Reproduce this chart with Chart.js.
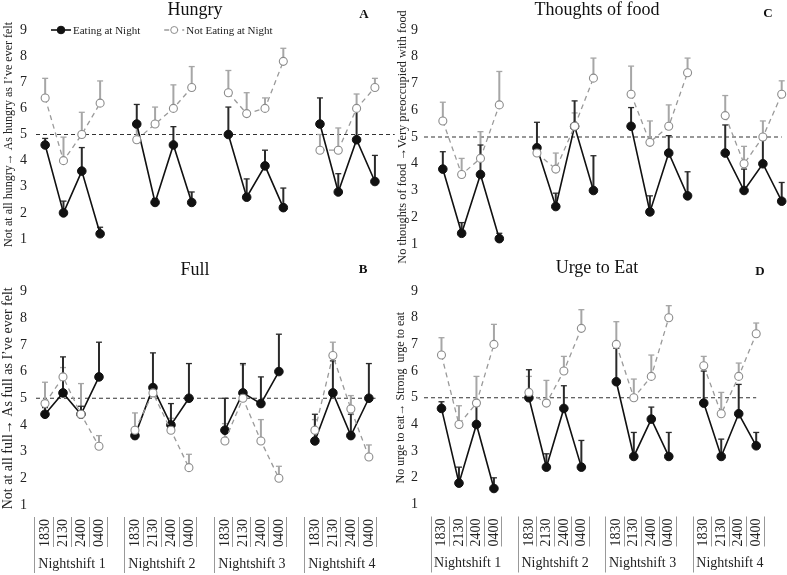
<!DOCTYPE html>
<html>
<head>
<meta charset="utf-8">
<script src="https://cdn.jsdelivr.net/npm/chart.js@4"></script>
<style>
body{margin:0;background:#fff;}
#wrap{position:relative;width:787px;height:575px;overflow:hidden;}
canvas{position:absolute;}
</style>
</head>
<body>
<div id="wrap">
    <canvas id="cA" width="400" height="280" style="left:0;top:0"></canvas>
    <canvas id="cC" width="394" height="280" style="left:393px;top:0"></canvas>
    <canvas id="cB" width="400" height="317" style="left:0;top:258px"></canvas>
    <canvas id="cD" width="394" height="317" style="left:393px;top:258px"></canvas>
</div>
<script>
const turnos = ['Nightshift 1','Nightshift 2','Nightshift 3','Nightshift 4'];
const horas = ['1830','2130','2400','0400'];
const escala = [1,2,3,4,5,6,7,8,9];
const referencia = 5;
const series = ['Eating at Night','Not Eating at Night'];

// medias y tope de la barra de error, 4 horas x 4 turnos
const hungryEat    = [4.6,2.0,3.6,1.2, 5.4,2.4,4.6,2.4, 5.0,2.6,3.8,2.2, 5.4,2.8,4.8,3.2];
const hungryEatTop = [4.85,2.45,4.5,1.45, 6.15,2.55,5.3,2.8, 6.05,3.3,4.4,2.95, 6.4,3.5,5.95,4.2];
const hungryNot    = [6.4,4.0,5.0,6.2, 4.8,5.4,6.0,6.8, 6.6,5.8,6.0,7.8, 4.4,4.4,6.0,6.8];
const hungryNotTop = [7.15,4.9,5.85,7.05, 5.3,6.05,6.9,7.6, 7.45,6.6,6.4,8.3, 5.0,5.25,6.55,7.15];

const fullEat    = [4.4,5.2,4.4,5.8, 3.6,5.4,4.0,5.0, 3.8,5.2,4.8,6.0, 3.4,5.2,3.6,5.0];
const fullEatTop = [4.65,6.55,4.7,7.1, 3.9,6.7,4.8,6.3, 5.0,6.3,5.8,7.4, 4.4,6.4,4.4,6.3];
const fullNot    = [4.8,5.8,4.4,3.2, 3.8,5.2,3.8,2.4, 3.4,5.0,3.4,2.0, 3.8,6.6,4.6,2.8];
const fullNotTop = [5.6,6.15,5.55,3.6, 4.45,5.5,4.25,2.9, 4.05,6.25,4.2,2.45, 4.2,7.1,5.1,3.25];

const thoughtsEat    = [3.8,1.4,3.6,1.2, 4.6,2.4,5.4,3.0, 5.4,2.2,4.4,2.8, 4.4,3.0,4.0,2.6];
const thoughtsEatTop = [4.45,1.8,4.7,1.4, 5.55,2.9,6.35,4.3, 6.1,2.8,5.05,3.7, 5.45,3.8,4.9,3.3];
const thoughtsNot    = [5.6,3.6,4.2,6.2, 4.4,3.8,5.4,7.2, 6.6,4.8,5.4,7.4, 5.8,4.0,5.0,6.6];
const thoughtsNotTop = [6.3,4.2,5.2,7.45, 4.6,4.4,5.9,7.95, 7.65,5.6,6.2,7.95, 6.55,4.65,5.6,7.1];

const urgeEat    = [4.6,1.8,4.0,1.6, 5.0,2.4,4.6,2.4, 5.6,2.8,4.2,2.8, 4.8,2.8,4.4,3.2];
const urgeEatTop = [4.85,2.4,4.7,2.0, 6.05,2.9,5.45,3.4, 6.85,3.7,4.65,3.7, 6.0,3.45,5.5,3.7];
const urgeNot    = [6.6,4.0,4.8,7.0, 5.2,4.8,6.0,7.6, 7.0,5.0,5.8,8.0, 6.2,4.4,5.8,7.4];
const urgeNotTop = [7.25,4.7,5.8,7.75, 5.8,5.65,6.55,8.3, 7.85,5.7,6.6,8.45, 6.55,5.2,6.3,7.8];

const fuente = '"Liberation Serif", "Times New Roman", serif';

// cada turno ocupa 5 posiciones en x, la quinta queda vacia para cortar la linea
const puntos = (vals) => {
    let arr = [];
    for (let s = 0; s < turnos.length; s++) {
        for (let j = 0; j < horas.length; j++) {
            arr.push({x: s*5+j, y: vals[s*horas.length+j]});
        }
        if (s < turnos.length-1) arr.push({x: s*5+horas.length, y: null});
    }
    return arr;
}
const posiciones = [];
turnos.forEach((t, s) => horas.forEach((h, j) => posiciones.push(s*5+j)));

const lineaMedia = {
    id: 'lineaMedia',
    beforeDatasetsDraw(chart) {
        const ctx = chart.ctx;
        const a = chart.chartArea;
        const py = chart.scales.y.getPixelForValue(referencia);
        ctx.save();
        ctx.strokeStyle = '#333';
        ctx.lineWidth = 1.2;
        ctx.setLineDash([4,3]);
        ctx.beginPath();
        ctx.moveTo(a.left, py);
        ctx.lineTo(a.right, py);
        ctx.stroke();
        ctx.restore();
    }
};

const barrasError = {
    id: 'barrasError',
    beforeDatasetsDraw(chart) {
        const ctx = chart.ctx;
        const ys = chart.scales.y;
        chart.data.datasets.forEach((ds, i) => {
            const meta = chart.getDatasetMeta(i);
            ctx.save();
            ctx.strokeStyle = ds.barColor;
            meta.data.forEach((pt, k) => {
                const top = ds.tops[k];
                if (top == null) return;
                const py = ys.getPixelForValue(top);
                ctx.lineWidth = 2;
                ctx.beginPath();
                ctx.moveTo(pt.x, pt.y);
                ctx.lineTo(pt.x, py);
                ctx.stroke();
                ctx.lineWidth = 1.3;
                ctx.beginPath();
                ctx.moveTo(pt.x-3, py);
                ctx.lineTo(pt.x+3, py);
                ctx.stroke();
            });
            ctx.restore();
        });
    }
};

const decor = {
    id: 'decor',
    afterDraw(chart, args, op) {
        const ctx = chart.ctx;
        ctx.save();
        ctx.fillStyle = '#111';
        ctx.textAlign = 'center';
        ctx.textBaseline = 'alphabetic';
        ctx.font = '18px ' + fuente;
        ctx.fillText(op.titulo, op.tx, op.ty);
        ctx.font = 'bold 13px ' + fuente;
        ctx.fillText(op.letra, op.lx, op.ly);
        if (op.leyenda) {
            let x = op.leyenda.x;
            const y = op.leyenda.y;
            ctx.font = '11px ' + fuente;
            ctx.textAlign = 'left';
            ctx.textBaseline = 'middle';
            [1,0].forEach((i) => {
                const ds = chart.data.datasets[i];
                ctx.strokeStyle = ds.borderColor;
                ctx.lineWidth = ds.borderWidth;
                ctx.setLineDash(ds.borderDash || []);
                ctx.beginPath();
                ctx.moveTo(x, y);
                ctx.lineTo(x+20, y);
                ctx.stroke();
                ctx.setLineDash([]);
                ctx.beginPath();
                ctx.arc(x+10, y, ds.pointRadius-0.5, 0, Math.PI*2);
                ctx.fillStyle = ds.pointBackgroundColor;
                ctx.fill();
                ctx.lineWidth = 1;
                ctx.strokeStyle = ds.pointBorderColor;
                ctx.stroke();
                ctx.fillStyle = '#222';
                ctx.fillText(ds.label, x+22, y+1);
                x += 22 + ctx.measureText(ds.label).width + 24;
            });
        }
        if (op.grupos) {
            const xs = chart.scales.x;
            const y0 = chart.chartArea.bottom + 12;
            ctx.strokeStyle = '#999';
            ctx.lineWidth = 1;
            ctx.fillStyle = '#222';
            ctx.font = '14px ' + fuente;
            ctx.textAlign = 'center';
            ctx.textBaseline = 'middle';
            turnos.forEach((t, s) => {
                let px = Math.round(xs.getPixelForValue(s*5-0.62)) + 0.5;
                ctx.beginPath();
                ctx.moveTo(px, y0);
                ctx.lineTo(px, y0+56);
                ctx.stroke();
                horas.forEach((h, j) => {
                    px = Math.round(xs.getPixelForValue(s*5+j+0.42)) + 0.5;
                    ctx.beginPath();
                    ctx.moveTo(px, y0);
                    ctx.lineTo(px, y0+30);
                    ctx.stroke();
                });
                ctx.fillText(t, xs.getPixelForValue(s*5+1.5), y0+47);
            });
        }
        ctx.restore();
    }
};

const crearPanel = (p) => {
    const datasets = [
        {
            label: series[1],
            data: puntos(p.not),
            tops: puntos(p.notTop).map(d => d.y),
            borderColor: '#9a9a9a',
            borderWidth: 1.3,
            borderDash: [5,4],
            pointRadius: 4,
            pointBackgroundColor: '#fff',
            pointBorderColor: '#8c8c8c',
            pointBorderWidth: 1.1,
            barColor: '#a6a6a6',
            clip: false
        },
        {
            label: series[0],
            data: puntos(p.eat),
            tops: puntos(p.eatTop).map(d => d.y),
            borderColor: '#111',
            borderWidth: 1.6,
            pointRadius: 4.3,
            pointBackgroundColor: '#111',
            pointBorderColor: '#111',
            pointBorderWidth: 1,
            barColor: '#2a2a2a',
            clip: false
        }
    ];
    new Chart(document.getElementById(p.id), {
        type: 'line',
        data: {datasets},
        options: {
            responsive: false,
            animation: false,
            events: [],
            layout: {padding: {top: p.top, bottom: p.bottom, left: 0, right: p.right}},
            plugins: {
                legend: {display: false},
                tooltip: {enabled: false},
                decor: {titulo: p.titulo, letra: p.letra, tx: p.tx, ty: p.ty, lx: p.lx, ly: p.ly,
                        leyenda: p.leyenda, grupos: p.ejeX}
            },
            scales: {
                x: {
                    type: 'linear',
                    min: p.xmin,
                    max: p.xmax,
                    display: p.ejeX,
                    grid: {display: false, drawTicks: false},
                    border: {display: false},
                    afterBuildTicks: (s) => { s.ticks = posiciones.map(v => ({value: v})); },
                    afterFit: (s) => { s.height = p.altoX || 0; },
                    ticks: {
                        autoSkip: false,
                        minRotation: 90,
                        maxRotation: 90,
                        padding: 14,
                        color: '#222',
                        font: {family: fuente, size: 14},
                        callback: (v) => horas[v % 5]
                    }
                },
                y: {
                    min: escala[0],
                    max: escala[escala.length-1],
                    grid: {display: false, drawTicks: false},
                    border: {display: false},
                    afterBuildTicks: (s) => { s.ticks = escala.map(v => ({value: v})); },
                    afterFit: (s) => { s.width = p.anchoY; },
                    ticks: {padding: p.padY, color: '#222', font: {family: fuente, size: 14}},
                    title: {
                        display: true,
                        text: p.ytitle,
                        color: '#222',
                        font: {family: fuente, size: p.ysize},
                        padding: {top: p.ypad, bottom: 0}
                    }
                }
            }
        },
        plugins: [lineaMedia, barrasError, decor]
    });
}

const paneles = [
    {id: 'cA', titulo: 'Hungry', letra: 'A', eat: hungryEat, eatTop: hungryEatTop, not: hungryNot, notTop: hungryNotTop,
     ytitle: 'Not at all hungry\u2192 As hungry as I\u2019ve ever felt', ysize: 12, ypad: 1.5,
     xmin: -0.5, xmax: 19.08, top: 30, bottom: 41, right: 4, anchoY: 36, padY: 9, ejeX: false,
     tx: 195, ty: 15, lx: 364, ly: 18, leyenda: {x: 51, y: 30}},
    {id: 'cC', titulo: 'Thoughts of food', letra: 'C', eat: thoughtsEat, eatTop: thoughtsEatTop, not: thoughtsNot, notTop: thoughtsNotTop,
     ytitle: 'No thoughts of food \u2192Very preoccupied with food', ysize: 12.4, ypad: 2.3,
     xmin: -1, xmax: 18, top: 30, bottom: 36, right: 4, anchoY: 31, padY: 6, ejeX: false,
     tx: 204, ty: 15, lx: 375, ly: 17},
    {id: 'cB', titulo: 'Full', letra: 'B', eat: fullEat, eatTop: fullEatTop, not: fullNot, notTop: fullNotTop,
     ytitle: 'Not at all full\u2192 As full as I\u2019ve ever felt', ysize: 14, ypad: 0,
     xmin: -0.5, xmax: 18.37, top: 33.5, bottom: 0, right: 17, anchoY: 36, padY: 9, ejeX: true, altoX: 70,
     tx: 195, ty: 17, lx: 363, ly: 15},
    {id: 'cD', titulo: 'Urge to Eat', letra: 'D', eat: urgeEat, eatTop: urgeEatTop, not: urgeNot, notTop: urgeNotTop,
     ytitle: 'No urge to eat\u2192 Strong  urge to eat', ysize: 12, ypad: 0.8,
     xmin: -1, xmax: 18, top: 33, bottom: 0, right: 4, anchoY: 31, padY: 6, ejeX: true, altoX: 70.5,
     tx: 204, ty: 15, lx: 367, ly: 17}
];
paneles.forEach(crearPanel);
</script>
</body>
</html>
